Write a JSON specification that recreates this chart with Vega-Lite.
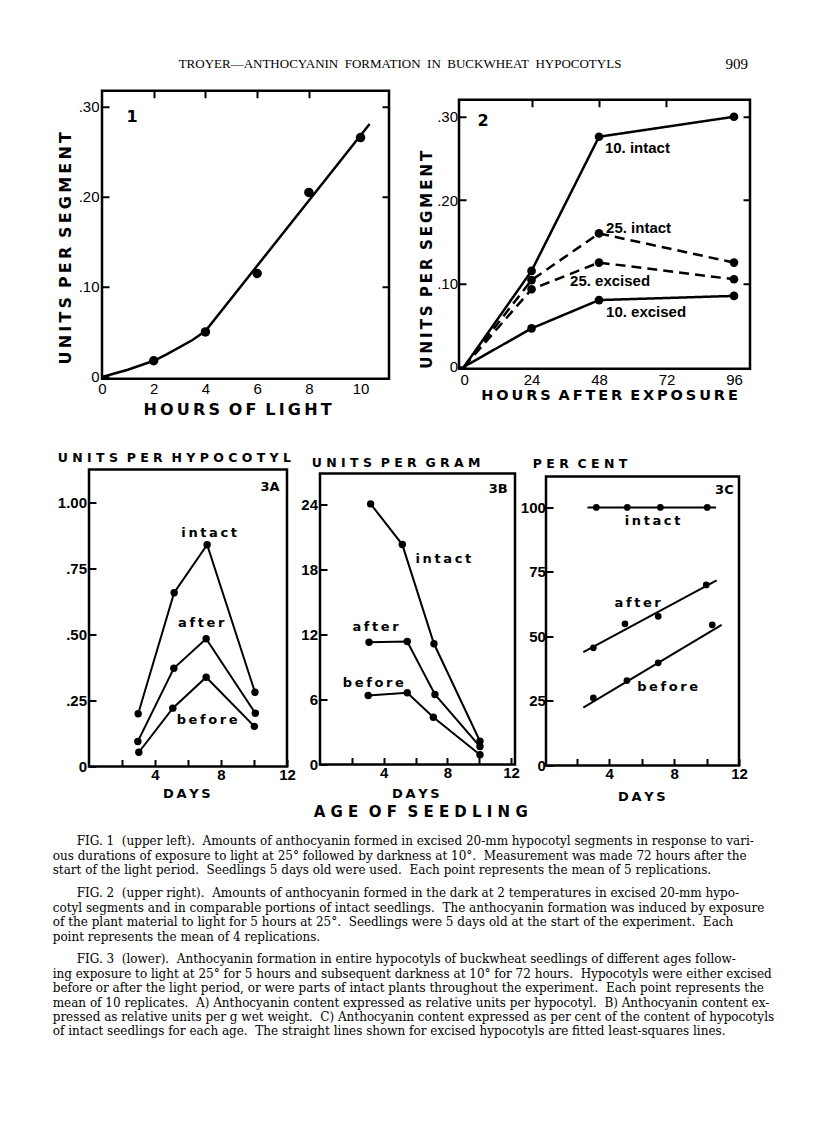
{
  "$schema": "https://vega.github.io/schema/vega-lite/v6.json",
  "padding": {"left": 52, "top": 56, "right": 0, "bottom": 0},
  "background": "white",
  "config": {
    "view": {"stroke": "black", "strokeWidth": 2.5},
    "axis": {"domain": false, "grid": false, "tickColor": "black", "tickWidth": 2, "labelColor": "black", "titleColor": "black", "labelFont": "Liberation Sans", "titleFont": "DejaVu Sans", "titleFontWeight": "bold", "labelOverlap": false, "labelFlush": false, "labelBound": false},
    "text": {"color": "black"}
  },
  "datasets": {
    "spacer": [{"s": 0}],
    "header": [
      {"kind": "running", "text": "TROYER—ANTHOCYANIN\u00a0 FORMATION\u00a0 IN\u00a0 BUCKWHEAT\u00a0 HYPOCOTYLS"},
      {"kind": "page", "text": "909"}
    ],
    "agetitle": [{"text": "A G E\u00a0\u00a0O F\u00a0\u00a0S E E D L I N G"}],
    "fig1curve": [
      {"hours": 0, "units": 0.0}, {"hours": 1, "units": 0.008}, {"hours": 2, "units": 0.018}, {"hours": 2.5, "units": 0.025},
      {"hours": 3.5, "units": 0.041}, {"hours": 4, "units": 0.051}, {"hours": 10.35, "units": 0.281}
    ],
    "fig1points": [
      {"hours": 2, "units": 0.018}, {"hours": 4, "units": 0.050}, {"hours": 6, "units": 0.115}, {"hours": 8, "units": 0.205}, {"hours": 10, "units": 0.266}
    ],
    "fig1labels": [{"label": "1", "hours": 1.16, "units": 0.289}],
    "fig2": [
      {"series": "10 intact", "temp": "10", "hours": 0, "units": 0}, {"series": "10 intact", "temp": "10", "hours": 24, "units": 0.115}, {"series": "10 intact", "temp": "10", "hours": 48, "units": 0.276}, {"series": "10 intact", "temp": "10", "hours": 96, "units": 0.300},
      {"series": "25 intact", "temp": "25", "hours": 0, "units": 0}, {"series": "25 intact", "temp": "25", "hours": 24, "units": 0.104}, {"series": "25 intact", "temp": "25", "hours": 48, "units": 0.160}, {"series": "25 intact", "temp": "25", "hours": 96, "units": 0.125},
      {"series": "25 excised", "temp": "25", "hours": 0, "units": 0}, {"series": "25 excised", "temp": "25", "hours": 24, "units": 0.093}, {"series": "25 excised", "temp": "25", "hours": 48, "units": 0.125}, {"series": "25 excised", "temp": "25", "hours": 96, "units": 0.105},
      {"series": "10 excised", "temp": "10", "hours": 0, "units": 0}, {"series": "10 excised", "temp": "10", "hours": 24, "units": 0.046}, {"series": "10 excised", "temp": "10", "hours": 48, "units": 0.080}, {"series": "10 excised", "temp": "10", "hours": 96, "units": 0.085}
    ],
    "fig2labels": [
      {"label": "10. intact", "hours": 50.1, "units": 0.263},
      {"label": "25. intact", "hours": 50.5, "units": 0.167},
      {"label": "25. excised", "hours": 37.7, "units": 0.103},
      {"label": "10. excised", "hours": 50.5, "units": 0.066}
    ],
    "fig2panel": [{"label": "2", "hours": 6.8, "units": 0.295}],
    "fig3a": [
      {"series": "intact", "days": 2.98, "value": 0.200}, {"series": "intact", "days": 5.16, "value": 0.658}, {"series": "intact", "days": 7.16, "value": 0.840}, {"series": "intact", "days": 10.06, "value": 0.281},
      {"series": "after", "days": 2.96, "value": 0.095}, {"series": "after", "days": 5.14, "value": 0.372}, {"series": "after", "days": 7.10, "value": 0.484}, {"series": "after", "days": 10.08, "value": 0.202},
      {"series": "before", "days": 3.02, "value": 0.054}, {"series": "before", "days": 5.08, "value": 0.221}, {"series": "before", "days": 7.10, "value": 0.338}, {"series": "before", "days": 10.02, "value": 0.152}
    ],
    "fig3alabels": [
      {"label": "i\u2009n\u2009t\u2009a\u2009c\u2009t", "days": 7.28, "value": 0.883},
      {"label": "a\u2009f\u2009t\u2009e\u2009r", "days": 6.80, "value": 0.542},
      {"label": "b\u2009e\u2009f\u2009o\u2009r\u2009e", "days": 7.16, "value": 0.178}
    ],
    "fig3apanel": [{"label": "3A", "days": 10.97, "value": 1.057}],
    "fig3b": [
      {"series": "intact", "days": 3.18, "value": 24.09}, {"series": "intact", "days": 5.17, "value": 20.33}, {"series": "intact", "days": 7.16, "value": 11.16}, {"series": "intact", "days": 10.05, "value": 2.15},
      {"series": "after", "days": 3.08, "value": 11.30}, {"series": "after", "days": 5.48, "value": 11.37}, {"series": "after", "days": 7.22, "value": 6.47}, {"series": "after", "days": 10.05, "value": 1.66},
      {"series": "before", "days": 3.03, "value": 6.38}, {"series": "before", "days": 5.48, "value": 6.63}, {"series": "before", "days": 7.12, "value": 4.37}, {"series": "before", "days": 10.05, "value": 0.90}
    ],
    "fig3blabels": [
      {"label": "i\u2009n\u2009t\u2009a\u2009c\u2009t", "days": 7.75, "value": 19.0},
      {"label": "a\u2009f\u2009t\u2009e\u2009r", "days": 3.49, "value": 12.69},
      {"label": "b\u2009e\u2009f\u2009o\u2009r\u2009e", "days": 3.35, "value": 7.51}
    ],
    "fig3bpanel": [{"label": "3B", "days": 11.2, "value": 25.5}],
    "fig3c": [
      {"series": "intact", "days": 3.20, "pct": 100}, {"series": "intact", "days": 5.11, "pct": 100}, {"series": "intact", "days": 7.15, "pct": 100}, {"series": "intact", "days": 10.04, "pct": 100},
      {"series": "after", "days": 3.02, "pct": 45.6}, {"series": "after", "days": 4.97, "pct": 54.9}, {"series": "after", "days": 7.02, "pct": 57.8}, {"series": "after", "days": 9.98, "pct": 70.0},
      {"series": "before", "days": 3.02, "pct": 26.2}, {"series": "before", "days": 5.09, "pct": 32.9}, {"series": "before", "days": 7.02, "pct": 39.8}, {"series": "before", "days": 10.35, "pct": 54.5}
    ],
    "fig3cfit": [
      {"series": "intact", "days": 2.66, "pct": 100}, {"series": "intact", "days": 10.58, "pct": 100},
      {"series": "after", "days": 2.40, "pct": 43.9}, {"series": "after", "days": 10.62, "pct": 71.7},
      {"series": "before", "days": 2.40, "pct": 22.4}, {"series": "before", "days": 10.93, "pct": 54.5}
    ],
    "fig3clabels": [
      {"label": "i\u2009n\u2009t\u2009a\u2009c\u2009t", "days": 6.67, "pct": 94.7},
      {"label": "a\u2009f\u2009t\u2009e\u2009r", "days": 5.75, "pct": 62.9},
      {"label": "b\u2009e\u2009f\u2009o\u2009r\u2009e", "days": 7.60, "pct": 30.3}
    ],
    "fig3cpanel": [{"label": "3C", "days": 11.1, "pct": 106.9}],
    "captions": [
      {"para": 1, "line": 1, "text": "FIG. 1\u00a0 (upper left).\u00a0 Amounts of anthocyanin formed in excised 20-mm hypocotyl segments in response to vari-"},
      {"para": 1, "line": 2, "text": "ous durations of exposure to light at 25° followed by darkness at 10°.\u00a0 Measurement was made 72 hours after the"},
      {"para": 1, "line": 3, "text": "start of the light period.\u00a0 Seedlings 5 days old were used.\u00a0 Each point represents the mean of 5 replications."},
      {"para": 2, "line": 1, "text": "FIG. 2\u00a0 (upper right).\u00a0 Amounts of anthocyanin formed in the dark at 2 temperatures in excised 20-mm hypo-"},
      {"para": 2, "line": 2, "text": "cotyl segments and in comparable portions of intact seedlings.\u00a0 The anthocyanin formation was induced by exposure"},
      {"para": 2, "line": 3, "text": "of the plant material to light for 5 hours at 25°.\u00a0 Seedlings were 5 days old at the start of the experiment.\u00a0 Each"},
      {"para": 2, "line": 4, "text": "point represents the mean of 4 replications."},
      {"para": 3, "line": 1, "text": "FIG. 3\u00a0 (lower).\u00a0 Anthocyanin formation in entire hypocotyls of buckwheat seedlings of different ages follow-"},
      {"para": 3, "line": 2, "text": "ing exposure to light at 25° for 5 hours and subsequent darkness at 10° for 72 hours.\u00a0 Hypocotyls were either excised"},
      {"para": 3, "line": 3, "text": "before or after the light period, or were parts of intact plants throughout the experiment.\u00a0 Each point represents the"},
      {"para": 3, "line": 4, "text": "mean of 10 replicates.\u00a0 A) Anthocyanin content expressed as relative units per hypocotyl.\u00a0 B) Anthocyanin content ex-"},
      {"para": 3, "line": 5, "text": "pressed as relative units per g wet weight.\u00a0 C) Anthocyanin content expressed as per cent of the content of hypocotyls"},
      {"para": 3, "line": 6, "text": "of intact seedlings for each age.\u00a0 The straight lines shown for excised hypocotyls are fitted least-squares lines."}
    ]
  },
  "columns": 1,
  "spacing": 15.75,
  "concat": [
    {
      "width": 696, "height": 16,
      "view": {"stroke": null},
      "data": {"name": "header"},
      "layer": [
        {"transform": [{"filter": "datum.kind == 'running'"}],
         "mark": {"type": "text", "font": "Liberation Serif", "fontSize": 13, "align": "center", "baseline": "middle"},
         "encoding": {"text": {"field": "text"}, "x": {"datum": 0.5, "type": "quantitative", "scale": {"domain": [0, 1], "nice": false, "zero": false}, "axis": null}}},
        {"transform": [{"filter": "datum.kind == 'page'"}],
         "mark": {"type": "text", "font": "Liberation Serif", "fontSize": 15, "align": "right", "baseline": "middle"},
         "encoding": {"text": {"field": "text"}, "x": {"datum": 1, "type": "quantitative", "scale": {"domain": [0, 1], "nice": false, "zero": false}, "axis": null}}}
      ]
    },
    {
      "columns": 1,
      "spacing": 28.75,
      "concat": [
        {
          "columns": 3,
          "spacing": 0,
          "concat": [
            {"width": 2, "height": 1, "view": {"stroke": null}, "data": {"name": "spacer"}, "mark": {"type": "point", "size": 0, "opacity": 0}},
            {
              "width": 287, "height": 288,
              "resolve": {"axis": {"x": "independent", "y": "independent"}},
              "layer": [
                {"data": {"name": "fig1curve"},
                 "mark": {"type": "line", "color": "black", "strokeWidth": 2.5},
                 "encoding": {
                   "x": {"field": "hours", "type": "quantitative", "scale": {"domain": [0, 11.1], "nice": false, "zero": false},
                         "axis": {"orient": "bottom", "values": [0, 2, 4, 6, 8, 10], "ticks": false, "labelFontSize": 15, "labelPadding": 3,
                                  "title": "H\u2009O\u2009U\u2009R\u2009S\u00a0\u2009O\u2009F\u00a0\u2009L\u2009I\u2009G\u2009H\u2009T", "titleFontSize": 16, "titleX": 135, "titleY": 31, "titleAlign": "center", "titleBaseline": "middle", "titleAngle": 0}},
                   "y": {"field": "units", "type": "quantitative", "scale": {"domain": [-0.002, 0.318], "nice": false, "zero": false},
                         "axis": {"orient": "left", "values": [0, 0.1, 0.2, 0.3], "labelExpr": "datum.value == 0 ? '0' : replace(format(datum.value, '.2f'), '0.', '.')", "tickSize": -7, "labelPadding": 10, "labelFontSize": 15,
                                  "title": "U\u2009N\u2009I\u2009T\u2009S\u00a0\u2009P\u2009E\u2009R\u00a0\u2009S\u2009E\u2009G\u2009M\u2009E\u2009N\u2009T", "titleFontSize": 16, "titleAngle": 270, "titleX": -36.5, "titleY": 157, "titleAlign": "center", "titleBaseline": "middle"}}
                 }},
                {"data": {"name": "fig1curve"},
                 "mark": {"type": "point", "opacity": 0},
                 "encoding": {
                   "x": {"field": "hours", "type": "quantitative", "scale": {"domain": [0, 11.1], "nice": false, "zero": false},
                         "axis": {"orient": "top", "values": [2, 4, 6, 8], "labels": false, "tickSize": -7, "title": " ", "titleFontSize": 1, "titleX": -46, "titleY": 100, "titleAlign": "left", "titleBaseline": "top", "titleAngle": 0}},
                   "y": {"field": "units", "type": "quantitative", "scale": {"domain": [-0.002, 0.318], "nice": false, "zero": false},
                         "axis": {"orient": "right", "values": [0.1, 0.2, 0.3], "labels": false, "tickSize": -7, "title": null}}
                 }},
                {"data": {"name": "fig1points"},
                 "mark": {"type": "point", "filled": true, "color": "black", "opacity": 1, "size": 90},
                 "encoding": {
                   "x": {"field": "hours", "type": "quantitative", "scale": {"domain": [0, 11.1], "nice": false, "zero": false}, "axis": null},
                   "y": {"field": "units", "type": "quantitative", "scale": {"domain": [-0.002, 0.318], "nice": false, "zero": false}, "axis": null}
                 }},
                {"data": {"name": "fig1labels"},
                 "mark": {"type": "text", "font": "DejaVu Sans", "fontWeight": "bold", "fontSize": 16, "align": "center", "baseline": "middle"},
                 "encoding": {
                   "x": {"field": "hours", "type": "quantitative", "scale": {"domain": [0, 11.1], "nice": false, "zero": false}, "axis": null},
                   "y": {"field": "units", "type": "quantitative", "scale": {"domain": [-0.002, 0.318], "nice": false, "zero": false}, "axis": null},
                   "text": {"field": "label"}
                 }}
              ]
            },
            {
              "columns": 1,
              "spacing": 0,
              "concat": [
                {"width": 1, "height": 5.75, "view": {"stroke": null}, "data": {"name": "spacer"}, "mark": {"type": "point", "size": 0, "opacity": 0}},
                {
                  "width": 291, "height": 269,
                  "resolve": {"axis": {"x": "independent", "y": "independent"}},
                  "layer": [
                    {"data": {"name": "fig2"},
                     "mark": {"type": "line", "color": "black", "strokeWidth": 2.5},
                     "encoding": {
                       "x": {"field": "hours", "type": "quantitative", "scale": {"domain": [-1.8, 101.7], "nice": false, "zero": false},
                             "axis": {"orient": "bottom", "values": [0, 24, 48, 72, 96], "ticks": false, "labelFontSize": 15, "labelPadding": 4,
                                      "title": "H\u2009O\u2009U\u2009R\u2009S\u00a0\u2009A\u2009F\u2009T\u2009E\u2009R\u00a0\u2009E\u2009X\u2009P\u2009O\u2009S\u2009U\u2009R\u2009E", "titleFontSize": 14.5, "titleX": 150, "titleY": 27, "titleAlign": "center", "titleBaseline": "middle", "titleAngle": 0}},
                       "y": {"field": "units", "type": "quantitative", "scale": {"domain": [-0.0024, 0.3204], "nice": false, "zero": false},
                             "axis": {"orient": "left", "values": [0, 0.1, 0.2, 0.3], "labelExpr": "datum.value == 0 ? '0' : replace(format(datum.value, '.2f'), '0.', '.')", "tickSize": -7, "labelPadding": 8.5, "labelFontSize": 15,
                                      "title": "U\u2009N\u2009I\u2009T\u2009S\u00a0\u2009P\u2009E\u2009R\u00a0\u2009S\u2009E\u2009G\u2009M\u2009E\u2009N\u2009T", "titleFontSize": 15, "titleAngle": 270, "titleX": -32.3, "titleY": 159.5, "titleAlign": "center", "titleBaseline": "middle"}},
                       "detail": {"field": "series"},
                       "strokeDash": {"field": "temp", "type": "nominal", "scale": {"domain": ["10", "25"], "range": [[1, 0], [10, 6]]}, "legend": null}
                     }},
                    {"data": {"name": "fig2"},
                     "mark": {"type": "point", "opacity": 0},
                     "encoding": {
                       "x": {"field": "hours", "type": "quantitative", "scale": {"domain": [-1.8, 101.7], "nice": false, "zero": false},
                             "axis": {"orient": "top", "values": [24, 48, 72], "labels": false, "tickSize": -7, "title": " ", "titleFontSize": 1, "titleX": -65.75, "titleY": 100, "titleAlign": "left", "titleBaseline": "top", "titleAngle": 0}},
                       "y": {"field": "units", "type": "quantitative", "scale": {"domain": [-0.0024, 0.3204], "nice": false, "zero": false},
                             "axis": {"orient": "right", "values": [0.1, 0.2, 0.3], "labels": false, "tickSize": -7, "title": null}}
                     }},
                    {"data": {"name": "fig2"},
                     "transform": [{"filter": "datum.hours > 0"}],
                     "mark": {"type": "point", "filled": true, "color": "black", "opacity": 1, "size": 75},
                     "encoding": {
                       "x": {"field": "hours", "type": "quantitative", "scale": {"domain": [-1.8, 101.7], "nice": false, "zero": false}, "axis": null},
                       "y": {"field": "units", "type": "quantitative", "scale": {"domain": [-0.0024, 0.3204], "nice": false, "zero": false}, "axis": null}
                     }},
                    {"data": {"name": "fig2labels"},
                     "mark": {"type": "text", "font": "Liberation Sans", "fontWeight": "bold", "fontSize": 15, "align": "left", "baseline": "middle"},
                     "encoding": {
                       "x": {"field": "hours", "type": "quantitative", "scale": {"domain": [-1.8, 101.7], "nice": false, "zero": false}, "axis": null},
                       "y": {"field": "units", "type": "quantitative", "scale": {"domain": [-0.0024, 0.3204], "nice": false, "zero": false}, "axis": null},
                       "text": {"field": "label"}
                     }},
                    {"data": {"name": "fig2panel"},
                     "mark": {"type": "text", "font": "DejaVu Sans", "fontWeight": "bold", "fontSize": 16, "align": "center", "baseline": "middle"},
                     "encoding": {
                       "x": {"field": "hours", "type": "quantitative", "scale": {"domain": [-1.8, 101.7], "nice": false, "zero": false}, "axis": null},
                       "y": {"field": "units", "type": "quantitative", "scale": {"domain": [-0.0024, 0.3204], "nice": false, "zero": false}, "axis": null},
                       "text": {"field": "label"}
                     }}
                  ]
                }
              ]
            }
          ]
        },
        {
          "columns": 1,
          "spacing": 0,
          "concat": [
            {
              "columns": 4,
              "spacing": -3,
              "concat": [
                {"width": 2.2, "height": 1, "view": {"stroke": null}, "data": {"name": "spacer"}, "mark": {"type": "point", "size": 0, "opacity": 0}},
                {
                  "columns": 1,
                  "spacing": 0,
                  "concat": [
                    {"width": 1, "height": 1, "view": {"stroke": null}, "data": {"name": "spacer"}, "mark": {"type": "point", "size": 0, "opacity": 0}},
                    {
                      "width": 198, "height": 297,
                      "resolve": {"axis": {"x": "independent", "y": "independent"}},
                      "layer": [
                        {"data": {"name": "fig3a"},
                         "mark": {"type": "line", "color": "black", "strokeWidth": 2},
                         "encoding": {
                           "x": {"field": "days", "type": "quantitative", "scale": {"domain": [0, 12], "nice": false, "zero": false},
                                 "axis": {"orient": "bottom", "values": [2, 4, 6, 8, 10, 12], "labelExpr": "datum.value % 4 == 0 ? datum.label : ''", "tickSize": -7, "labelPadding": 8, "labelFontSize": 15, "labelFontWeight": "bold",
                                          "title": "D\u2009A\u2009Y\u2009S", "titleFontSize": 13, "titleX": 97.3, "titleY": 27, "titleAlign": "center", "titleBaseline": "middle", "titleAngle": 0}},
                           "y": {"field": "value", "type": "quantitative", "scale": {"domain": [0, 1.125], "nice": false, "zero": false},
                                 "axis": {"orient": "left", "values": [0, 0.25, 0.5, 0.75, 1], "labelExpr": "datum.value == 0 ? '0' : datum.value == 1 ? '1.00' : replace(format(datum.value, '.2f'), '0.', '.')", "tickSize": -7, "labelPadding": 9.5, "labelFontSize": 15, "labelFontWeight": "bold",
                                          "title": " ", "titleFontSize": 1, "titleX": -35.5, "titleY": 100, "titleAlign": "left", "titleBaseline": "top", "titleAngle": 0}},
                           "detail": {"field": "series"}
                         }},
                        {"data": {"name": "fig3a"},
                         "mark": {"type": "point", "opacity": 0},
                         "encoding": {
                           "x": {"field": "days", "type": "quantitative", "scale": {"domain": [0, 12], "nice": false, "zero": false},
                                 "axis": {"orient": "top", "ticks": false, "labels": false, "title": "U N I T S\u00a0\u00a0P E R\u00a0\u00a0H Y P O C O T Y L", "titleFontSize": 12.5, "titleX": -31.7, "titleY": -12, "titleAlign": "left", "titleBaseline": "middle", "titleAngle": 0}},
                           "y": {"field": "value", "type": "quantitative", "scale": {"domain": [0, 1.125], "nice": false, "zero": false}, "axis": null}
                         }},
                        {"data": {"name": "fig3a"},
                         "mark": {"type": "point", "filled": true, "color": "black", "opacity": 1, "size": 55},
                         "encoding": {
                           "x": {"field": "days", "type": "quantitative", "scale": {"domain": [0, 12], "nice": false, "zero": false}, "axis": null},
                           "y": {"field": "value", "type": "quantitative", "scale": {"domain": [0, 1.125], "nice": false, "zero": false}, "axis": null}
                         }},
                        {"data": {"name": "fig3alabels"},
                         "mark": {"type": "text", "font": "DejaVu Sans", "fontWeight": "bold", "fontSize": 13, "align": "center", "baseline": "middle"},
                         "encoding": {
                           "x": {"field": "days", "type": "quantitative", "scale": {"domain": [0, 12], "nice": false, "zero": false}, "axis": null},
                           "y": {"field": "value", "type": "quantitative", "scale": {"domain": [0, 1.125], "nice": false, "zero": false}, "axis": null},
                           "text": {"field": "label"}
                         }},
                        {"data": {"name": "fig3apanel"},
                         "mark": {"type": "text", "font": "DejaVu Sans", "fontWeight": "bold", "fontSize": 13, "align": "center", "baseline": "middle"},
                         "encoding": {
                           "x": {"field": "days", "type": "quantitative", "scale": {"domain": [0, 12], "nice": false, "zero": false}, "axis": null},
                           "y": {"field": "value", "type": "quantitative", "scale": {"domain": [0, 1.125], "nice": false, "zero": false}, "axis": null},
                           "text": {"field": "label"}
                         }}
                      ]
                    }
                  ]
                },
                {
                  "columns": 1,
                  "spacing": 0,
                  "concat": [
                    {"width": 1, "height": 6, "view": {"stroke": null}, "data": {"name": "spacer"}, "mark": {"type": "point", "size": 0, "opacity": 0}},
                    {
                      "width": 195, "height": 291,
                      "resolve": {"axis": {"x": "independent", "y": "independent"}},
                      "layer": [
                        {"data": {"name": "fig3b"},
                         "mark": {"type": "line", "color": "black", "strokeWidth": 2},
                         "encoding": {
                           "x": {"field": "days", "type": "quantitative", "scale": {"domain": [0, 12.25], "nice": false, "zero": false},
                                 "axis": {"orient": "bottom", "values": [2, 4, 6, 8, 10, 12], "labelExpr": "datum.value % 4 == 0 ? datum.label : ''", "tickSize": -7, "labelPadding": 8, "labelFontSize": 15, "labelFontWeight": "bold",
                                          "title": "D\u2009A\u2009Y\u2009S", "titleFontSize": 13, "titleX": 95.3, "titleY": 28.7, "titleAlign": "center", "titleBaseline": "middle", "titleAngle": 0}},
                           "y": {"field": "value", "type": "quantitative", "scale": {"domain": [0, 26.9], "nice": false, "zero": false},
                                 "axis": {"orient": "left", "values": [0, 6, 12, 18, 24], "tickSize": -7, "labelPadding": 9.5, "labelFontSize": 15, "labelFontWeight": "bold",
                                          "title": " ", "titleFontSize": 1, "titleX": -24.65, "titleY": 100, "titleAlign": "left", "titleBaseline": "top", "titleAngle": 0}},
                           "detail": {"field": "series"}
                         }},
                        {"data": {"name": "fig3b"},
                         "mark": {"type": "point", "opacity": 0},
                         "encoding": {
                           "x": {"field": "days", "type": "quantitative", "scale": {"domain": [0, 12.25], "nice": false, "zero": false},
                                 "axis": {"orient": "top", "ticks": false, "labels": false, "title": "U N I T S\u00a0\u00a0P E R\u00a0\u00a0G R A M", "titleFontSize": 12.5, "titleX": -8.7, "titleY": -11, "titleAlign": "left", "titleBaseline": "middle", "titleAngle": 0}},
                           "y": {"field": "value", "type": "quantitative", "scale": {"domain": [0, 26.9], "nice": false, "zero": false}, "axis": null}
                         }},
                        {"data": {"name": "fig3b"},
                         "mark": {"type": "point", "filled": true, "color": "black", "opacity": 1, "size": 55},
                         "encoding": {
                           "x": {"field": "days", "type": "quantitative", "scale": {"domain": [0, 12.25], "nice": false, "zero": false}, "axis": null},
                           "y": {"field": "value", "type": "quantitative", "scale": {"domain": [0, 26.9], "nice": false, "zero": false}, "axis": null}
                         }},
                        {"data": {"name": "fig3blabels"},
                         "mark": {"type": "text", "font": "DejaVu Sans", "fontWeight": "bold", "fontSize": 13, "align": "center", "baseline": "middle"},
                         "encoding": {
                           "x": {"field": "days", "type": "quantitative", "scale": {"domain": [0, 12.25], "nice": false, "zero": false}, "axis": null},
                           "y": {"field": "value", "type": "quantitative", "scale": {"domain": [0, 26.9], "nice": false, "zero": false}, "axis": null},
                           "text": {"field": "label"}
                         }},
                        {"data": {"name": "fig3bpanel"},
                         "mark": {"type": "text", "font": "DejaVu Sans", "fontWeight": "bold", "fontSize": 13, "align": "center", "baseline": "middle"},
                         "encoding": {
                           "x": {"field": "days", "type": "quantitative", "scale": {"domain": [0, 12.25], "nice": false, "zero": false}, "axis": null},
                           "y": {"field": "value", "type": "quantitative", "scale": {"domain": [0, 26.9], "nice": false, "zero": false}, "axis": null},
                           "text": {"field": "label"}
                         }}
                      ]
                    }
                  ]
                },
                {
                  "columns": 1,
                  "spacing": 0,
                  "concat": [
                    {"width": 1, "height": 7, "view": {"stroke": null}, "data": {"name": "spacer"}, "mark": {"type": "point", "size": 0, "opacity": 0}},
                    {
                      "width": 193, "height": 289,
                      "resolve": {"axis": {"x": "independent", "y": "independent"}},
                      "layer": [
                        {"data": {"name": "fig3cfit"},
                         "mark": {"type": "line", "color": "black", "strokeWidth": 2},
                         "encoding": {
                           "x": {"field": "days", "type": "quantitative", "scale": {"domain": [0.1, 12], "nice": false, "zero": false},
                                 "axis": {"orient": "bottom", "values": [2, 4, 6, 8, 10, 12], "labelExpr": "datum.value % 4 == 0 ? datum.label : ''", "tickSize": -7, "labelPadding": 8, "labelFontSize": 15, "labelFontWeight": "bold",
                                          "title": "D\u2009A\u2009Y\u2009S", "titleFontSize": 13, "titleX": 95.3, "titleY": 30.7, "titleAlign": "center", "titleBaseline": "middle", "titleAngle": 0}},
                           "y": {"field": "pct", "type": "quantitative", "scale": {"domain": [0, 112], "nice": false, "zero": false},
                                 "axis": {"orient": "left", "values": [0, 25, 50, 75, 100], "tickSize": -7, "labelPadding": 7.65, "labelFontSize": 15, "labelFontWeight": "bold",
                                          "title": " ", "titleFontSize": 1, "titleX": -26.65, "titleY": 100, "titleAlign": "left", "titleBaseline": "top", "titleAngle": 0}},
                           "detail": {"field": "series"}
                         }},
                        {"data": {"name": "fig3c"},
                         "mark": {"type": "point", "opacity": 0},
                         "encoding": {
                           "x": {"field": "days", "type": "quantitative", "scale": {"domain": [0.1, 12], "nice": false, "zero": false},
                                 "axis": {"orient": "top", "ticks": false, "labels": false, "title": "P E R\u00a0\u00a0C E N T", "titleFontSize": 12.5, "titleX": -13.7, "titleY": -13, "titleAlign": "left", "titleBaseline": "middle", "titleAngle": 0}},
                           "y": {"field": "pct", "type": "quantitative", "scale": {"domain": [0, 112], "nice": false, "zero": false}, "axis": null}
                         }},
                        {"data": {"name": "fig3c"},
                         "mark": {"type": "point", "filled": true, "color": "black", "opacity": 1, "size": 45},
                         "encoding": {
                           "x": {"field": "days", "type": "quantitative", "scale": {"domain": [0.1, 12], "nice": false, "zero": false}, "axis": null},
                           "y": {"field": "pct", "type": "quantitative", "scale": {"domain": [0, 112], "nice": false, "zero": false}, "axis": null}
                         }},
                        {"data": {"name": "fig3clabels"},
                         "mark": {"type": "text", "font": "DejaVu Sans", "fontWeight": "bold", "fontSize": 13, "align": "center", "baseline": "middle"},
                         "encoding": {
                           "x": {"field": "days", "type": "quantitative", "scale": {"domain": [0.1, 12], "nice": false, "zero": false}, "axis": null},
                           "y": {"field": "pct", "type": "quantitative", "scale": {"domain": [0, 112], "nice": false, "zero": false}, "axis": null},
                           "text": {"field": "label"}
                         }},
                        {"data": {"name": "fig3cpanel"},
                         "mark": {"type": "text", "font": "DejaVu Sans", "fontWeight": "bold", "fontSize": 13, "align": "center", "baseline": "middle"},
                         "encoding": {
                           "x": {"field": "days", "type": "quantitative", "scale": {"domain": [0.1, 12], "nice": false, "zero": false}, "axis": null},
                           "y": {"field": "pct", "type": "quantitative", "scale": {"domain": [0, 112], "nice": false, "zero": false}, "axis": null},
                           "text": {"field": "label"}
                         }}
                      ]
                    }
                  ]
                }
              ]
            },
            {
              "columns": 1,
              "spacing": 13.7,
              "concat": [
                {
                  "width": 737.4, "height": 14.4,
                  "view": {"stroke": null},
                  "data": {"name": "agetitle"},
                  "mark": {"type": "text", "font": "DejaVu Sans", "fontWeight": "bold", "fontSize": 15, "align": "center", "baseline": "middle"},
                  "encoding": {"text": {"field": "text"}}
                },
                {
                  "columns": 1,
                  "spacing": 8,
                  "concat": [
                    {
                      "width": 719, "height": {"step": 14.4},
                      "view": {"stroke": null},
                      "data": {"name": "captions"},
                      "transform": [{"filter": "datum.para == 1"}],
                      "encoding": {
                        "y": {"field": "line", "type": "ordinal", "axis": null, "scale": {"type": "point", "padding": 0.5}},
                        "x": {"datum": 0, "type": "quantitative", "scale": {"domain": [0, 1], "nice": false, "zero": false}, "axis": null},
                        "text": {"field": "text"}
                      },
                      "layer": [
                        {"transform": [{"filter": "datum.line == 1"}], "mark": {"type": "text", "align": "left", "baseline": "middle", "dx": 24.7, "font": "DejaVu Serif", "fontSize": 12}},
                        {"transform": [{"filter": "datum.line > 1"}], "mark": {"type": "text", "align": "left", "baseline": "middle", "dx": 0.7, "font": "DejaVu Serif", "fontSize": 12}}
                      ]
                    },
                    {
                      "width": 719, "height": {"step": 14.4},
                      "view": {"stroke": null},
                      "data": {"name": "captions"},
                      "transform": [{"filter": "datum.para == 2"}],
                      "encoding": {
                        "y": {"field": "line", "type": "ordinal", "axis": null, "scale": {"type": "point", "padding": 0.5}},
                        "x": {"datum": 0, "type": "quantitative", "scale": {"domain": [0, 1], "nice": false, "zero": false}, "axis": null},
                        "text": {"field": "text"}
                      },
                      "layer": [
                        {"transform": [{"filter": "datum.line == 1"}], "mark": {"type": "text", "align": "left", "baseline": "middle", "dx": 24.7, "font": "DejaVu Serif", "fontSize": 12}},
                        {"transform": [{"filter": "datum.line > 1"}], "mark": {"type": "text", "align": "left", "baseline": "middle", "dx": 0.7, "font": "DejaVu Serif", "fontSize": 12}}
                      ]
                    },
                    {
                      "width": 719, "height": {"step": 14.4},
                      "view": {"stroke": null},
                      "data": {"name": "captions"},
                      "transform": [{"filter": "datum.para == 3"}],
                      "encoding": {
                        "y": {"field": "line", "type": "ordinal", "axis": null, "scale": {"type": "point", "padding": 0.5}},
                        "x": {"datum": 0, "type": "quantitative", "scale": {"domain": [0, 1], "nice": false, "zero": false}, "axis": null},
                        "text": {"field": "text"}
                      },
                      "layer": [
                        {"transform": [{"filter": "datum.line == 1"}], "mark": {"type": "text", "align": "left", "baseline": "middle", "dx": 24.7, "font": "DejaVu Serif", "fontSize": 12}},
                        {"transform": [{"filter": "datum.line > 1"}], "mark": {"type": "text", "align": "left", "baseline": "middle", "dx": 0.7, "font": "DejaVu Serif", "fontSize": 12}}
                      ]
                    }
                  ]
                }
              ]
            }
          ]
        }
      ]
    }
  ]
}
